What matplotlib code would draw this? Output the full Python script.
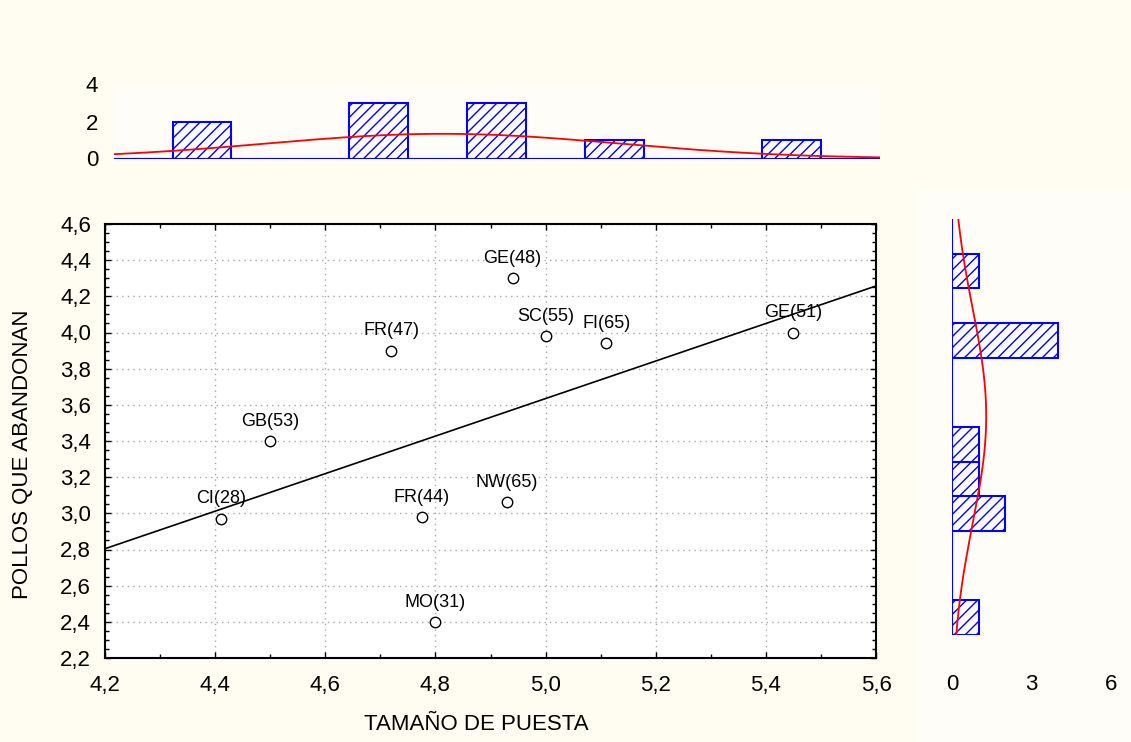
import numpy as np
import matplotlib.pyplot as plt
from matplotlib.ticker import MultipleLocator, FuncFormatter
from matplotlib.patches import Rectangle

plt.rcParams['font.family'] = ['Liberation Sans', 'DejaVu Sans']
plt.rcParams['hatch.linewidth'] = 1.0

# Poblaciones: etiqueta (tamaño de muestra), tamaño de puesta y pollos que abandonan
etiquetas = ['CI(28)', 'GB(53)', 'FR(47)', 'FR(44)', 'MO(31)',
             'NW(65)', 'GE(48)', 'SC(55)', 'FI(65)', 'GE(51)']
tamano_puesta = [4.41, 4.50, 4.72, 4.775, 4.80, 4.93, 4.94, 5.00, 5.11, 5.45]
pollos_abandonan = [2.97, 3.40, 3.90, 2.98, 2.40, 3.06, 4.30, 3.98, 3.94, 4.00]

# Intervalos de los histogramas marginales (inicio, ancho, numero de clases)
inicio_x, ancho_x, n_x = 4.305, 0.1, 13
inicio_y, ancho_y, n_y = 2.23, 0.2, 12

x = np.array(tamano_puesta)
y = np.array(pollos_abandonan)

W, H = 1131, 742
fondo = '#fffcf1'
panel = '#fffdf7'


def caja(x0, y0, x1, y1):
    # rectangulo en pixeles -> coordenadas de figura
    return [x0 / W, 1 - y1 / H, (x1 - x0) / W, (y1 - y0) / H]


def coma(v, pos):
    return f'{v:.1f}'.replace('.', ',')


def normal(t, datos, ancho):
    m, s = datos.mean(), datos.std(ddof=1)
    return len(datos) * ancho * np.exp(-0.5 * ((t - m) / s) ** 2) / (s * np.sqrt(2 * np.pi))


fig = plt.figure(figsize=(W / 100, H / 100), dpi=100, facecolor=fondo)
fig.patches.append(Rectangle((915 / W, 0), (W - 915) / W, 1 - 190 / H,
                             transform=fig.transFigure, facecolor=panel,
                             edgecolor='none', zorder=-1))

# --- diagrama de dispersion ---
ax = fig.add_axes(caja(105, 224, 876, 658))
ax.set_facecolor('white')
ax.set_xlim(4.2, 5.6)
ax.set_ylim(2.2, 4.6)
ax.plot(x, y, 'o', mfc='white', mec='black', ms=7.5, mew=1, zorder=3)

pendiente, corte = np.polyfit(x, y, 1)
xr = np.array(ax.get_xlim())
ax.plot(xr, pendiente * xr + corte, color='black', lw=1.2, zorder=2)

for et, xi, yi in zip(etiquetas, x, y):
    ax.annotate(et, (xi, yi), xytext=(0, 11), textcoords='offset points',
                ha='center', va='baseline', fontsize=13)

ax.xaxis.set_major_locator(MultipleLocator(0.2))
ax.xaxis.set_minor_locator(MultipleLocator(0.1))
ax.yaxis.set_major_locator(MultipleLocator(0.2))
ax.yaxis.set_minor_locator(MultipleLocator(0.05))
ax.xaxis.set_major_formatter(FuncFormatter(coma))
ax.yaxis.set_major_formatter(FuncFormatter(coma))
ax.tick_params(which='both', direction='in', top=True, right=True, width=1, labelsize=16)
ax.tick_params(which='major', length=4)
ax.tick_params(which='minor', length=3)
ax.tick_params(axis='x', pad=12)
ax.tick_params(axis='y', pad=10)
ax.grid(True, which='major', color='#a8a8a8', linestyle=(0, (1, 3)), linewidth=1)
for s in ax.spines.values():
    s.set_linewidth(1.5)

ax.set_xlabel('TAMAÑO DE PUESTA', fontsize=16)
ax.xaxis.set_label_coords(0.482, -0.128)
ax.set_ylabel('POLLOS QUE ABANDONAN', fontsize=16)
ax.yaxis.set_label_coords(-0.093, 0.47)

# --- histograma superior (tamaño de puesta) ---
bordes_x = inicio_x + ancho_x * np.arange(n_x + 1)
cuentas_x, _ = np.histogram(x, bins=bordes_x)
ax_sup = fig.add_axes(caja(113.6, 84.5, 879.6, 158.5))
ax_sup.set_facecolor(panel)
ax_sup.bar(bordes_x[:-1], cuentas_x, width=ancho_x, align='edge',
           facecolor='white', edgecolor='blue', hatch='///', linewidth=1.5)
ax_sup.axhline(0, color='blue', lw=1.5)
tx = np.linspace(bordes_x[0], bordes_x[-1], 200)
ax_sup.plot(tx, normal(tx, x, ancho_x), color='red', lw=1.3)
ax_sup.set_xlim(bordes_x[0], bordes_x[-1])
ax_sup.set_ylim(0, 4)
ax_sup.set_yticks([0, 2, 4])
ax_sup.set_xticks([])
ax_sup.tick_params(axis='y', length=0, labelsize=16, pad=11)
for s in ax_sup.spines.values():
    s.set_visible(False)

# --- histograma derecho (pollos que abandonan) ---
bordes_y = inicio_y + ancho_y * np.arange(n_y + 1)
cuentas_y, _ = np.histogram(y, bins=bordes_y)
ax_der = fig.add_axes(caja(952, 219, 1111, 635))
ax_der.patch.set_alpha(0)
ax_der.barh(bordes_y[:-1], cuentas_y, height=ancho_y, align='edge',
            facecolor='white', edgecolor='blue', hatch='///', linewidth=1.5)
ax_der.axvline(0, color='blue', lw=1.5)
ty = np.linspace(bordes_y[0], bordes_y[-1], 200)
ax_der.plot(normal(ty, y, ancho_y), ty, color='red', lw=1.3)
ax_der.set_ylim(bordes_y[0], bordes_y[-1])
ax_der.set_xlim(0, 6)
ax_der.set_xticks([0, 3, 6])
ax_der.set_yticks([])
ax_der.tick_params(axis='x', length=0, labelsize=16, pad=28)
for s in ax_der.spines.values():
    s.set_visible(False)

fig.savefig('out.png', dpi=100, facecolor=fondo)
